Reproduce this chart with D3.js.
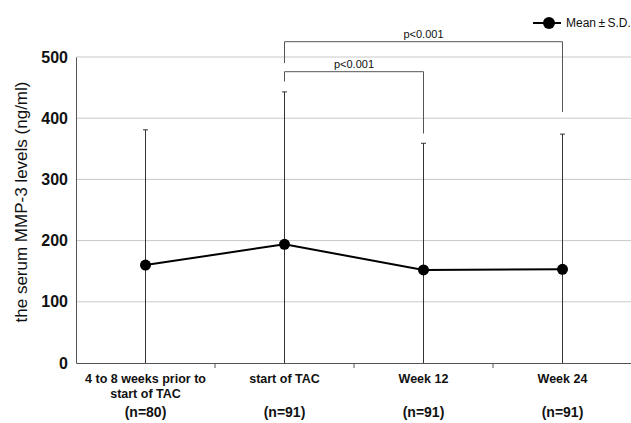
<!DOCTYPE html>
<html><head><meta charset="utf-8">
<script src="https://cdn.jsdelivr.net/npm/d3@7"></script>
<style>body{margin:0;background:#fff}svg{display:block;font-family:"Liberation Sans",Arial,sans-serif}</style>
</head><body><svg id="c" width="631" height="423"></svg>
<script>
const categories = ["4 to 8 weeks prior to|start of TAC", "start of TAC", "Week 12", "Week 24"];
const nLabels = ["(n=80)", "(n=91)", "(n=91)", "(n=91)"];
const means = [160, 194, 152, 153];
const sdTops = [381, 443, 359, 374];
const yTicks = [0, 100, 200, 300, 400, 500];
const brackets = [
  {from: 1, to: 3, level: 525, leftEnd: 490, rightEnd: 410, label: "p<0.001"},
  {from: 1, to: 2, level: 476, leftEnd: 460, rightEnd: 375, label: "p<0.001"}
];

const svg = d3.select("#c");
const L = 76, R = 632, T = 57, B = 363;
const x = d3.scaleBand().domain(categories).range([L, R]);
const y = d3.scaleLinear().domain([0, 500]).range([B, T]);
const cx = i => x(categories[i]) + x.bandwidth() / 2;

// gridlines
svg.append("g").selectAll("line").data(yTicks.filter(d => d > 0)).join("line")
  .attr("x1", L).attr("x2", 631).attr("y1", d => y(d)).attr("y2", d => y(d))
  .attr("stroke", "#c8c8c8").attr("stroke-width", 1);

// y axis
const ya = svg.append("g").attr("transform", `translate(${L},0)`)
  .call(d3.axisLeft(y).tickValues(yTicks).tickSize(0).tickPadding(8));
ya.select(".domain").attr("stroke", "#555");
ya.selectAll("text").attr("font-size", 16).attr("font-weight", "bold").attr("fill", "#111")
  .attr("font-family", "Liberation Sans, Arial, sans-serif");

// x axis
const xa = svg.append("g").attr("transform", `translate(0,${B})`)
  .call(d3.axisBottom(x).tickSize(0).tickFormat(""));
xa.select(".domain").attr("stroke", "#555");
svg.append("g").selectAll("line").data(d3.range(1, categories.length)).join("line")
  .attr("x1", i => x(categories[i])).attr("x2", i => x(categories[i]))
  .attr("y1", B).attr("y2", B + 5).attr("stroke", "#555");

// x labels
categories.forEach((c, i) => {
  const lines = c.split("|");
  const t = svg.append("text").attr("x", cx(i)).attr("y", 383).attr("text-anchor", "middle")
    .attr("font-size", 12.5).attr("font-weight", "bold").attr("fill", "#111");
  lines.forEach((ln, k) => t.append("tspan").attr("x", cx(i)).attr("dy", k ? 14.5 : 0).text(ln));
  svg.append("text").attr("x", cx(i)).attr("y", 417).attr("text-anchor", "middle")
    .attr("font-size", 14).attr("font-weight", "bold").attr("fill", "#111").text(nLabels[i]);
});

// error bars
means.forEach((m, i) => {
  svg.append("line").attr("x1", cx(i)).attr("x2", cx(i)).attr("y1", y(0)).attr("y2", y(sdTops[i]))
    .attr("stroke", "#333").attr("stroke-width", 1);
  svg.append("line").attr("x1", cx(i) - 2.5).attr("x2", cx(i) + 2.5).attr("y1", y(sdTops[i])).attr("y2", y(sdTops[i]))
    .attr("stroke", "#333").attr("stroke-width", 1);
});

// line + points
const line = d3.line().x((d, i) => cx(i)).y(d => y(d));
svg.append("path").datum(means).attr("d", line).attr("fill", "none").attr("stroke", "#000").attr("stroke-width", 2);
svg.append("g").selectAll("circle").data(means).join("circle")
  .attr("cx", (d, i) => cx(i)).attr("cy", d => y(d)).attr("r", 5.5).attr("fill", "#000");

// brackets
brackets.forEach(b => {
  const x1 = cx(b.from), x2 = cx(b.to), yl = y(b.level);
  svg.append("path")
    .attr("d", `M${x1},${y(b.leftEnd)}V${yl}H${x2}V${y(b.rightEnd)}`)
    .attr("fill", "none").attr("stroke", "#555").attr("stroke-width", 1);
  svg.append("text").attr("x", (x1 + x2) / 2).attr("y", yl - 4).attr("text-anchor", "middle")
    .attr("font-size", 11).attr("fill", "#111").text(b.label);
});

// y axis title
svg.append("text").attr("transform", `translate(27,202) rotate(-90)`)
  .attr("text-anchor", "middle").attr("font-size", 17).attr("fill", "#111")
  .text("the serum MMP-3 levels (ng/ml)");

// legend
svg.append("line").attr("x1", 533).attr("x2", 561).attr("y1", 23).attr("y2", 23).attr("stroke", "#000").attr("stroke-width", 2);
svg.append("circle").attr("cx", 549).attr("cy", 23).attr("r", 6).attr("fill", "#000");
svg.append("text").attr("x", 566).attr("y", 27).attr("font-size", 12).attr("fill", "#111").text("Mean\u2009\u00B1\u2009S.D.");
</script></body></html>
